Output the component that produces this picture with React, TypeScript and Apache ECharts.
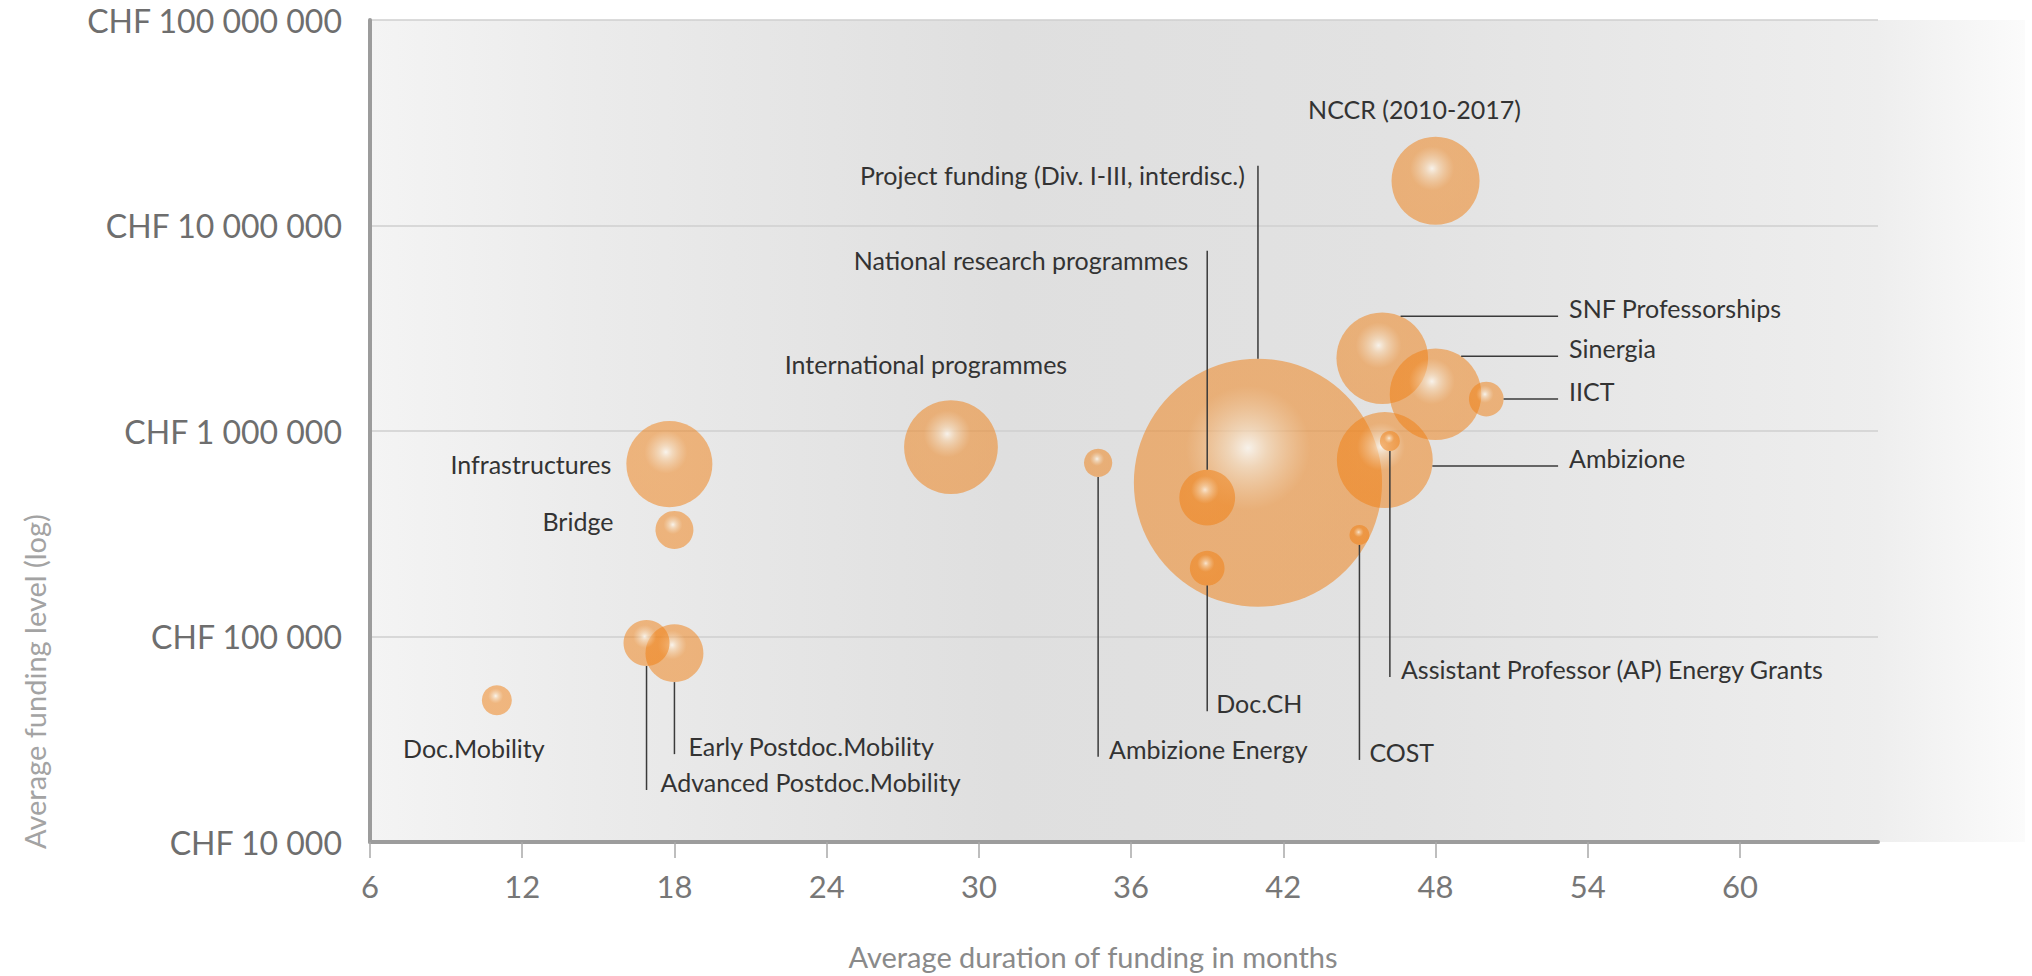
import React, { useEffect, useRef } from "react";
import * as echarts from "echarts";

// ---------- data ----------
const programmes = [
  "Doc.Mobility",
  "Advanced Postdoc.Mobility",
  "Early Postdoc.Mobility",
  "Bridge",
  "Infrastructures",
  "International programmes",
  "Ambizione Energy",
  "Project funding (Div. I-III, interdisc.)",
  "National research programmes",
  "Doc.CH",
  "NCCR (2010-2017)",
  "SNF Professorships",
  "Sinergia",
  "IICT",
  "Ambizione",
  "Assistant Professor (AP) Energy Grants",
  "COST",
];
const durationMonths = [11, 16.9, 18, 18, 17.8, 28.9, 34.7, 41, 39, 39, 48, 45.9, 48, 50, 46, 46.2, 45];
const fundingCHF = [
  49000, 93000, 83000, 330000, 690000, 835000, 700000, 560000, 474000, 215000,
  16500000, 2260000, 1510000, 1430000, 722000, 894000, 312000,
];
// relative bubble volume (area-proportional)
const bubbleVolume = [2.25, 5.3, 8.4, 3.6, 18.5, 22, 2.0, 154, 7.8, 3.0, 19.4, 21, 21, 3.0, 23, 1.0, 1.0];

const xTicks = [6, 12, 18, 24, 30, 36, 42, 48, 54, 60];
const yTicks = [10000, 100000, 1000000, 10000000, 100000000];

// ---------- label layout (styling only) ----------
type Layout =
  | { mode: "free"; dx: number; dy: number; align: string }
  | { mode: "down"; len: number; dx: number }
  | { mode: "up"; len: number; dx: number }
  | { mode: "right"; dy: number };
const labelLayout: Layout[] = [
  { mode: "free", dx: -23, dy: 48, align: "center" },
  { mode: "down", len: 147, dx: 14 },
  { mode: "down", len: 101, dx: 14 },
  { mode: "free", dx: -61, dy: -9, align: "right" },
  { mode: "free", dx: -58, dy: 0, align: "right" },
  { mode: "free", dx: -25, dy: -83, align: "center" },
  { mode: "down", len: 294, dx: 11 },
  { mode: "up", len: 317, dx: -13 },
  { mode: "up", len: 247, dx: -19 },
  { mode: "down", len: 143, dx: 9 },
  { mode: "free", dx: -21, dy: -72, align: "center" },
  { mode: "right", dy: -42 },
  { mode: "right", dy: -38 },
  { mode: "right", dy: 0 },
  { mode: "right", dy: 6 },
  { mode: "down", len: 236, dx: 11 },
  { mode: "down", len: 225, dx: 10 },
];
const rightLeaderEndMonth = 52.83;

const bubbleRadius = (v: number) => 10 * Math.sqrt(v);
const fmtCHF = (v: number) =>
  "CHF " + String(Math.round(v)).replace(/\B(?=(\d{3})+(?!\d))/g, " ");

export default function App() {
  const ref = useRef<HTMLDivElement>(null);

  useEffect(() => {
    document.body.style.margin = "0";
    const chart = echarts.init(ref.current!, null, { renderer: "svg" });

    const tuples = durationMonths.map((m, i) => [m, fundingCHF[i], bubbleVolume[i], i]);
    const byVolume = [...tuples].sort((a, b) => b[2] - a[2]);

    const bubbleFill = new echarts.graphic.RadialGradient(0.46, 0.36, 0.5, [
      { offset: 0, color: "rgba(255,248,238,0.92)" },
      { offset: 0.16, color: "rgba(248,205,158,0.78)" },
      { offset: 0.5, color: "rgba(240,128,20,0.64)" },
      { offset: 1, color: "rgba(240,125,15,0.63)" },
    ]);

    const font = "Lato";

    chart.setOption({
      animation: false,
      backgroundColor: "#ffffff",
      grid: {
        left: 370,
        top: 20,
        right: 154,
        bottom: 134,
        show: true,
        borderWidth: 0,
        backgroundColor: new echarts.graphic.LinearGradient(0, 0, 1, 0, [
          { offset: 0, color: "#f4f4f4" },
          { offset: 0.15, color: "#ebebeb" },
          { offset: 0.42, color: "#dfdfdf" },
          { offset: 0.68, color: "#e2e2e2" },
          { offset: 1, color: "#eeeeee" },
        ]),
      },
      graphic: [
        {
          type: "rect",
          silent: true,
          shape: { x: 1878, y: 20, width: 147, height: 822 },
          style: {
            fill: new echarts.graphic.LinearGradient(0, 0, 1, 0, [
              { offset: 0, color: "#eeeeee" },
              { offset: 1, color: "#fbfbfb" },
            ]),
          },
        },
        {
          type: "text",
          silent: true,
          x: 34,
          y: 849,
          rotation: Math.PI / 2,
          style: {
            text: "Average funding level (log)",
            fill: "#a3a3a3",
            fontSize: 29,
            fontFamily: font,
            align: "left",
            verticalAlign: "middle",
          },
        },
      ],
      xAxis: {
        type: "value",
        min: 6,
        max: 65.44,
        name: "Average duration of funding in months",
        nameLocation: "middle",
        nameGap: 100,
        nameTextStyle: {
          color: "#8a8a8a",
          fontSize: 29,
          fontFamily: font,
          padding: [0, 62, 0, 0],
        },
        axisLine: { show: true, lineStyle: { color: "#9c9c9c", width: 4 } },
        axisTick: {
          show: true,
          length: 16,
          customValues: xTicks,
          lineStyle: { color: "#a8a8a8", width: 1.5 },
        },
        axisLabel: {
          customValues: xTicks,
          color: "#777777",
          fontSize: 31,
          fontFamily: font,
          margin: 28,
        },
        splitLine: { show: false },
      },
      yAxis: {
        type: "log",
        logBase: 10,
        min: yTicks[0],
        max: yTicks[yTicks.length - 1],
        axisLine: { show: true, lineStyle: { color: "#9c9c9c", width: 4 } },
        axisTick: { show: false },
        axisLabel: {
          formatter: (v: number) => fmtCHF(v),
          color: "#6e6e6e",
          fontSize: 32,
          fontFamily: font,
          margin: 28,
        },
        splitLine: { show: true, lineStyle: { color: "#cfcfcf", width: 1.5 } },
      },
      series: [
        {
          type: "scatter",
          silent: true,
          z: 3,
          data: byVolume,
          symbol: "circle",
          symbolSize: (val: number[]) => 2 * bubbleRadius(val[2]),
          itemStyle: { color: bubbleFill, borderWidth: 0 },
          emphasis: { disabled: true },
        },
        {
          type: "custom",
          silent: true,
          z: 5,
          clip: false,
          encode: { x: 0, y: 1 },
          data: tuples,
          renderItem: (params: any, api: any) => {
            const i = api.value(3);
            const [cx, cy] = api.coord([api.value(0), api.value(1)]);
            const r = bubbleRadius(api.value(2));
            const L = labelLayout[i];
            const text = programmes[i];
            const children: any[] = [];
            const line = (x1: number, y1: number, x2: number, y2: number) => ({
              type: "line",
              shape: { x1, y1, x2, y2 },
              style: { stroke: "#3a3a3a", lineWidth: 1.5 },
            });
            const label = (x: number, y: number, align: string) => ({
              type: "text",
              x,
              y,
              style: {
                text,
                fill: "#333333",
                fontSize: 25,
                fontFamily: font,
                align,
                verticalAlign: "middle",
              },
            });
            if (L.mode === "free") {
              children.push(label(cx + L.dx, cy + L.dy, L.align));
            } else if (L.mode === "down") {
              children.push(line(cx, cy + r, cx, cy + L.len));
              children.push(label(cx + L.dx, cy + L.len - 8, "left"));
            } else if (L.mode === "up") {
              children.push(line(cx, cy - r, cx, cy - L.len));
              children.push(label(cx + L.dx, cy - L.len + 9, "right"));
            } else {
              const endX = api.coord([rightLeaderEndMonth, api.value(1)])[0];
              const sx = cx + Math.sqrt(Math.max(0, r * r - L.dy * L.dy));
              children.push(line(sx, cy + L.dy, endX, cy + L.dy));
              children.push(label(endX + 11, cy + L.dy - 8, "left"));
            }
            return { type: "group", children };
          },
        },
      ],
    });

    return () => chart.dispose();
  }, []);

  return <div ref={ref} style={{ width: "2032px", height: "976px" }} />;
}
